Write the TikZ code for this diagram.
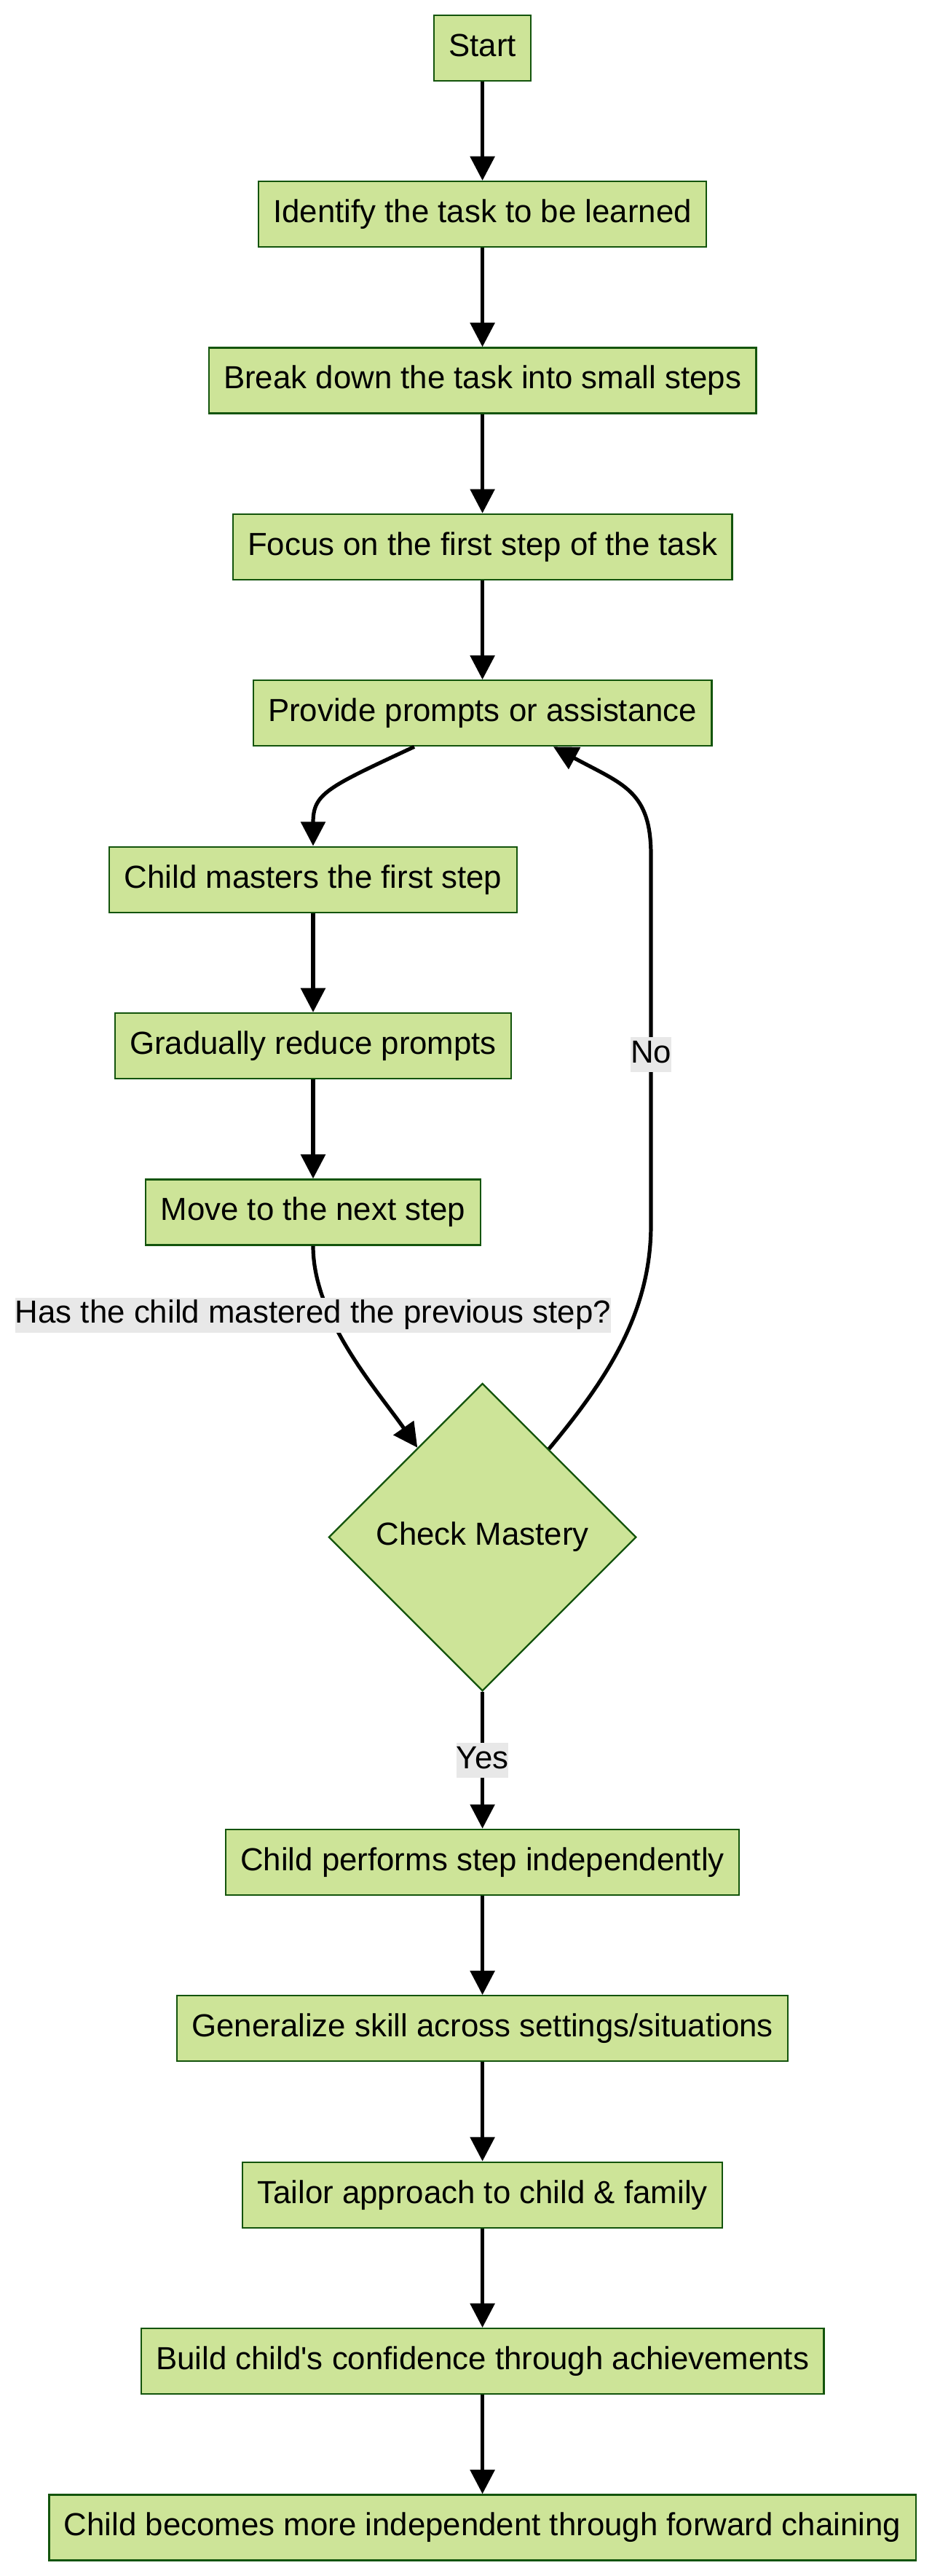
\documentclass[tikz,border=0pt]{standalone}
\usepackage{fontspec}
\setmainfont{Liberation Sans}
\usepackage{tikz}
\usetikzlibrary{arrows.meta, positioning, shapes.geometric, calc}
\definecolor{stepfill}{HTML}{CDE498}
\definecolor{stepline}{HTML}{13540C}
\definecolor{labelgray}{HTML}{E8E8E8}

\begin{document}
\begin{tikzpicture}[
  node distance   = 34.05pt,
  stepbox/.style  = {rectangle, fill=stepfill, draw=stepline, line width=0.55pt,
                     minimum height=22.5pt, inner xsep=5.1pt, text height=8pt,
                     text depth=2.3pt, font=\fontsize{10.95pt}{13pt}\selectfont},
  decision/.style = {diamond, aspect=1, fill=stepfill, draw=stepline, line width=0.55pt,
                     minimum width=105.6pt, minimum height=105.6pt, inner sep=0pt,
                     font=\fontsize{10.95pt}{13pt}\selectfont},
  arrow/.style    = {-{Triangle[length=8.3pt, width=8.3pt]}, line width=1.3pt, color=black},
  edgelabel/.style= {fill=labelgray, inner sep=0pt, minimum height=12pt, text height=8pt,
                     text depth=2.3pt, font=\fontsize{10.95pt}{13pt}\selectfont},
]
\useasboundingbox (0,0) rectangle (320pt,-884.25pt);

% Nodes
\node[stepbox] (start) at (165.65pt,-16.4pt) {Start};
\node[stepbox, below=of start]     (identify)  {Identify the task to be learned};
\node[stepbox, below=of identify]  (breakdown) {Break down the task into small steps};
\node[stepbox, below=of breakdown] (focus)     {Focus on the first step of the task};
\node[stepbox, below=of focus]     (prompt)    {Provide prompts or assistance};
\node[stepbox, below=of prompt, xshift=-58.15pt] (master) {Child masters the first step};
\node[stepbox, below=of master]    (reduce)    {Gradually reduce prompts};
\node[stepbox, below=of reduce]    (next)      {Move to the next step};
\node[decision, anchor=north, yshift=-46.95pt] (check) at (next.south -| start) {Check Mastery};
\node[stepbox, below=46.95pt of check] (perform)     {Child performs step independently};
\node[stepbox, below=of perform]       (general)     {Generalize skill across settings/situations};
\node[stepbox, below=of general]       (tailor)      {Tailor approach to child \& family};
\node[stepbox, below=of tailor]        (confidence)  {Build child\textquotesingle s confidence through achievements};
\node[stepbox, below=of confidence]    (independent) {Child becomes more independent through forward chaining};

% Loop bends
\coordinate (nolow)  at (223.5pt,-420.5pt);
\coordinate (nohigh) at (223.5pt,-293.5pt);

% Arrows
\draw[arrow] (start)     -- (identify);
\draw[arrow] (identify)  -- (breakdown);
\draw[arrow] (breakdown) -- (focus);
\draw[arrow] (focus)     -- (prompt);
\draw[arrow] ([xshift=-23.4pt]prompt.south) .. controls +(-30pt,-14pt) and +(0,18pt) .. (master.north);
\draw[arrow] (master)    -- (reduce);
\draw[arrow] (reduce)    -- (next);
\draw[arrow] (next.south) .. controls +(0,-25pt) and +(-14pt,20pt) .. (check.126);
\draw[arrow] (check.53) .. controls +(20pt,24pt) and +(0,-30pt) .. (nolow)
  -- node[edgelabel, pos=0.46] (no) {No} (nohigh)
  .. controls +(0,22pt) and +(24pt,-13pt) .. ([xshift=24.35pt]prompt.south);
\draw[arrow] (check)      -- node[edgelabel] (yes) {Yes} (perform);
\draw[arrow] (perform)    -- (general);
\draw[arrow] (general)    -- (tailor);
\draw[arrow] (tailor)     -- (confidence);
\draw[arrow] (confidence) -- (independent);

% Edge label
\node[edgelabel] (askq) at ([yshift=-23.75pt]next.south) {Has the child mastered the previous step?};
\end{tikzpicture}
\end{document}
